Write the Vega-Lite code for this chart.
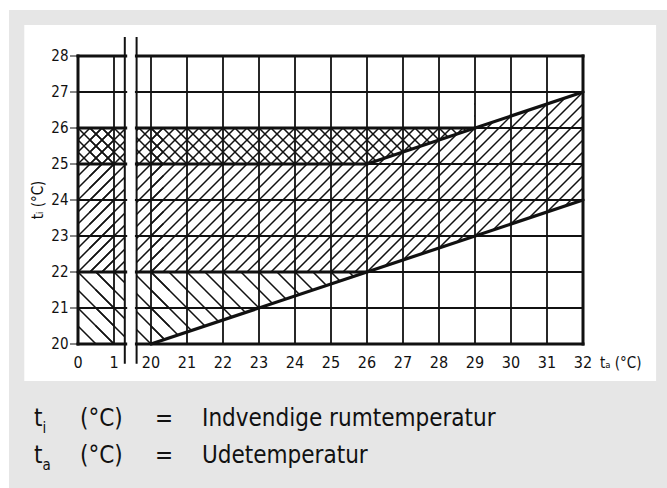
{
"$schema": "https://vega.github.io/schema/vega-lite/v6.json",
"width": 505,
"height": 288,
"autosize": "none",
"padding": {"left": 78, "top": 56, "right": 84, "bottom": 144},
"background": "white",
"config": {
  "font": "DejaVu Sans Condensed, DejaVu Sans, sans-serif",
  "view": {"stroke": null}
},
"datasets": {
  "b18": [
    {"x":0.5,"y":20.5},{"x":1,"y":20.5},{"x":20,"y":20.5},{"x":20.5,"y":20.5},{"x":21.5,"y":20.5},{"x":22.5,"y":20.5},{"x":23.5,"y":20.5},{"x":24.5,"y":20.5},{"x":25.5,"y":20.5},
    {"x":0.5,"y":21.5},{"x":1,"y":21.5},{"x":20,"y":21.5},{"x":20.5,"y":21.5},{"x":21.5,"y":21.5},{"x":22.5,"y":21.5},{"x":23.5,"y":21.5},{"x":24.5,"y":21.5},{"x":25.5,"y":21.5}
  ],
  "b12": [
    {"x":0.5,"y":25.5},{"x":0.8333,"y":25.5},{"x":19.8333,"y":25.5},{"x":20.5,"y":25.5},{"x":21.5,"y":25.5},{"x":22.5,"y":25.5},{"x":23.5,"y":25.5},{"x":24.5,"y":25.5},{"x":25.5,"y":25.5},{"x":26.5,"y":25.5},{"x":27.5,"y":25.5},{"x":28.5,"y":25.5}
  ],
  "f12": [
    {"x":0.5,"y":22.5},{"x":0.8333,"y":22.5},{"x":19.8333,"y":22.5},{"x":20.5,"y":22.5},{"x":21.5,"y":22.5},{"x":22.5,"y":22.5},{"x":23.5,"y":22.5},{"x":24.5,"y":22.5},{"x":25.5,"y":22.5},{"x":26.5,"y":22.5},{"x":27.5,"y":22.5},{"x":28.5,"y":22.5},{"x":29.5,"y":22.5},{"x":30.5,"y":22.5},{"x":31.5,"y":22.5},
    {"x":0.5,"y":23.5},{"x":0.8333,"y":23.5},{"x":19.8333,"y":23.5},{"x":20.5,"y":23.5},{"x":21.5,"y":23.5},{"x":22.5,"y":23.5},{"x":23.5,"y":23.5},{"x":24.5,"y":23.5},{"x":25.5,"y":23.5},{"x":26.5,"y":23.5},{"x":27.5,"y":23.5},{"x":28.5,"y":23.5},{"x":29.5,"y":23.5},{"x":30.5,"y":23.5},{"x":31.5,"y":23.5},
    {"x":0.5,"y":24.5},{"x":0.8333,"y":24.5},{"x":19.8333,"y":24.5},{"x":20.5,"y":24.5},{"x":21.5,"y":24.5},{"x":22.5,"y":24.5},{"x":23.5,"y":24.5},{"x":24.5,"y":24.5},{"x":25.5,"y":24.5},{"x":26.5,"y":24.5},{"x":27.5,"y":24.5},{"x":28.5,"y":24.5},{"x":29.5,"y":24.5},{"x":30.5,"y":24.5},{"x":31.5,"y":24.5},
    {"x":0.5,"y":25.5},{"x":0.8333,"y":25.5},{"x":19.8333,"y":25.5},{"x":20.5,"y":25.5},{"x":21.5,"y":25.5},{"x":22.5,"y":25.5},{"x":23.5,"y":25.5},{"x":24.5,"y":25.5},{"x":25.5,"y":25.5},{"x":26.5,"y":25.5},{"x":27.5,"y":25.5},{"x":28.5,"y":25.5},{"x":29.5,"y":25.5},{"x":30.5,"y":25.5},{"x":31.5,"y":25.5},
    {"x":29.5,"y":26.5},{"x":30.5,"y":26.5},{"x":31.5,"y":26.5}
  ],
  "maskA": [
    {"g":"M1","x":20,"y":20,"y2":20},{"g":"M1","x":26,"y":22,"y2":20},{"g":"M1","x":32,"y":22,"y2":20},
    {"g":"M2","x":26,"y":25,"y2":25},{"g":"M2","x":29,"y":26,"y2":25}
  ],
  "maskB": [
    {"g":"M3","x":26,"y":22,"y2":22},{"g":"M3","x":32,"y":24,"y2":22},
    {"g":"M4","x":29,"y":27,"y2":26},{"g":"M4","x":32,"y":27,"y2":27}
  ],
  "gx": [{"x":1},{"x":20},{"x":21},{"x":22},{"x":23},{"x":24},{"x":25},{"x":26},{"x":27},{"x":28},{"x":29},{"x":30},{"x":31}],
  "gy": [{"y":21},{"y":22},{"y":23},{"y":24},{"y":25},{"y":26},{"y":27}],
  "bx": [{"x":0},{"x":32}],
  "by": [{"y":20},{"y":28}],
  "xt": [{"x":0},{"x":1},{"x":20},{"x":21},{"x":22},{"x":23},{"x":24},{"x":25},{"x":26},{"x":27},{"x":28},{"x":29},{"x":30},{"x":31},{"x":32}],
  "yt": [{"y":20},{"y":21},{"y":22},{"y":23},{"y":24},{"y":25},{"y":26},{"y":27},{"y":28}],
  "lines": [
    {"seg":"a","x":0,"y":22},{"seg":"a","x":26,"y":22},
    {"seg":"b","x":0,"y":25},{"seg":"b","x":26,"y":25},
    {"seg":"c","x":0,"y":26},{"seg":"c","x":29,"y":26},
    {"seg":"d","x":20,"y":20},{"seg":"d","x":32,"y":24},
    {"seg":"e","x":26,"y":25},{"seg":"e","x":32,"y":27}
  ],
  "brk": [{"x":1.3},{"x":19.6}]
},
"layer": [
  {
    "data": {"values": [{}]},
    "mark": {"type": "rect", "fill": "#e6e6e6"},
    "encoding": {
      "x": {"datum": -1.9167, "type": "quantitative",
            "scale": {"domain": [0, 1.3, 19.6, 32], "range": [0, 46.8, 58.6, 505], "nice": false, "zero": false},
            "axis": null},
      "x2": {"datum": 34.34},
      "y": {"datum": 29.28, "type": "quantitative",
            "scale": {"domain": [20, 28], "nice": false, "zero": false},
            "axis": null},
      "y2": {"datum": 16}
    }
  },
  {
    "data": {"values": [{}]},
    "mark": {"type": "rect", "fill": "white"},
    "encoding": {
      "x": {"datum": -1.4917, "type": "quantitative"},
      "x2": {"datum": 34.03},
      "y": {"datum": 28.861, "type": "quantitative"},
      "y2": {"datum": 18.972}
    }
  },
  {
    "data": {"name": "b18"},
    "mark": {"type": "point", "shape": "M-1,-1L1,1M-1,0L0,1M0,-1L1,0", "size": 1296, "filled": false, "stroke": "#111", "strokeWidth": 1.5, "strokeCap": "square", "opacity": 1},
    "encoding": {
      "x": {"field": "x", "type": "quantitative"},
      "y": {"field": "y", "type": "quantitative"}
    }
  },
  {
    "data": {"name": "b12"},
    "mark": {"type": "point", "shape": "M-1,-1L1,1M-1,-0.3333L0.3333,1M-1,0.3333L-0.3333,1M-0.3333,-1L1,0.3333M0.3333,-1L1,-0.3333", "size": 1296, "filled": false, "stroke": "#111", "strokeWidth": 1.5, "strokeCap": "square", "opacity": 1},
    "encoding": {
      "x": {"field": "x", "type": "quantitative"},
      "y": {"field": "y", "type": "quantitative"}
    }
  },
  {
    "data": {"name": "maskA"},
    "mark": {"type": "area", "fill": "white", "opacity": 1},
    "encoding": {
      "x": {"field": "x", "type": "quantitative"},
      "y": {"field": "y", "type": "quantitative"},
      "y2": {"field": "y2"},
      "detail": {"field": "g"}
    }
  },
  {
    "data": {"name": "f12"},
    "mark": {"type": "point", "shape": "M-1,1L1,-1M-0.3333,1L1,-0.3333M0.3333,1L1,0.3333M-1,0.3333L0.3333,-1M-1,-0.3333L-0.3333,-1", "size": 1296, "filled": false, "stroke": "#111", "strokeWidth": 1.5, "strokeCap": "square", "opacity": 1},
    "encoding": {
      "x": {"field": "x", "type": "quantitative"},
      "y": {"field": "y", "type": "quantitative"}
    }
  },
  {
    "data": {"name": "maskB"},
    "mark": {"type": "area", "fill": "white", "opacity": 1},
    "encoding": {
      "x": {"field": "x", "type": "quantitative"},
      "y": {"field": "y", "type": "quantitative"},
      "y2": {"field": "y2"},
      "detail": {"field": "g"}
    }
  },
  {
    "data": {"values": [{}]},
    "mark": {"type": "rect", "fill": "white"},
    "encoding": {
      "x": {"datum": 1.3, "type": "quantitative"},
      "x2": {"datum": 19.6},
      "y": {"datum": 28, "type": "quantitative"},
      "y2": {"datum": 20}
    }
  },
  {
    "data": {"name": "gx"},
    "mark": {"type": "rule", "color": "#111", "strokeWidth": 1.8},
    "encoding": {"x": {"field": "x", "type": "quantitative"}}
  },
  {
    "data": {"name": "gy"},
    "mark": {"type": "rule", "color": "#111", "strokeWidth": 1.8},
    "encoding": {"y": {"field": "y", "type": "quantitative"}}
  },
  {
    "data": {"name": "bx"},
    "mark": {"type": "rule", "color": "#111", "strokeWidth": 3, "strokeCap": "square"},
    "encoding": {"x": {"field": "x", "type": "quantitative"}}
  },
  {
    "data": {"name": "by"},
    "mark": {"type": "rule", "color": "#111", "strokeWidth": 3, "strokeCap": "square"},
    "encoding": {"y": {"field": "y", "type": "quantitative"}}
  },
  {
    "data": {"name": "lines"},
    "mark": {"type": "line", "color": "#111", "strokeWidth": 3.2, "strokeCap": "round"},
    "encoding": {
      "x": {"field": "x", "type": "quantitative"},
      "y": {"field": "y", "type": "quantitative"},
      "detail": {"field": "seg"}
    }
  },
  {
    "data": {"values": [{}]},
    "mark": {"type": "rect", "fill": "white"},
    "encoding": {
      "x": {"datum": 5, "type": "quantitative"},
      "x2": {"datum": 17},
      "y": {"datum": 28.1, "type": "quantitative"},
      "y2": {"datum": 19.9}
    }
  },
  {
    "data": {"name": "brk"},
    "mark": {"type": "rule", "color": "#111", "strokeWidth": 2},
    "encoding": {
      "x": {"field": "x", "type": "quantitative"},
      "y": {"datum": 28.53, "type": "quantitative"},
      "y2": {"datum": 19.45}
    }
  },
  {
    "data": {"name": "yt"},
    "mark": {"type": "rule", "color": "#111", "strokeWidth": 1},
    "encoding": {
      "x": {"datum": -0.2222, "type": "quantitative"},
      "x2": {"datum": 0},
      "y": {"field": "y", "type": "quantitative"}
    }
  },
  {
    "data": {"name": "yt"},
    "mark": {"type": "text", "align": "right", "baseline": "middle", "fontSize": 15, "color": "#111"},
    "encoding": {
      "x": {"datum": -0.2639, "type": "quantitative"},
      "y": {"field": "y", "type": "quantitative"},
      "text": {"field": "y", "type": "quantitative"}
    }
  },
  {
    "data": {"name": "xt"},
    "mark": {"type": "text", "align": "center", "baseline": "alphabetic", "fontSize": 16, "color": "#111"},
    "encoding": {
      "x": {"field": "x", "type": "quantitative"},
      "y": {"datum": 19.33, "type": "quantitative"},
      "text": {"field": "x", "type": "quantitative"}
    }
  },
  {
    "data": {"values": [{"t": "tᵢ (°C)"}]},
    "mark": {"type": "text", "align": "center", "baseline": "middle", "fontSize": 15, "angle": 270, "color": "#111"},
    "encoding": {
      "x": {"datum": -1.111, "type": "quantitative"},
      "y": {"datum": 24, "type": "quantitative"},
      "text": {"field": "t"}
    }
  },
  {
    "data": {"values": [{"t": "tₐ (°C)"}]},
    "mark": {"type": "text", "align": "left", "baseline": "alphabetic", "fontSize": 15, "color": "#111"},
    "encoding": {
      "x": {"datum": 32.47, "type": "quantitative"},
      "y": {"datum": 19.33, "type": "quantitative"},
      "text": {"field": "t"}
    }
  },
  {
    "data": {"values": [
      {"t":"t","x":-1.2222,"y":17.722},{"t":"(°C)","x":0.0556,"y":17.722},{"t":"=","x":20.111,"y":17.722},{"t":"Indvendige rumtemperatur","x":21.417,"y":17.722},
      {"t":"t","x":-1.2222,"y":16.694},{"t":"(°C)","x":0.0556,"y":16.694},{"t":"=","x":20.111,"y":16.694},{"t":"Udetemperatur","x":21.417,"y":16.694}
    ]},
    "mark": {"type": "text", "align": "left", "baseline": "alphabetic", "fontSize": 24, "color": "#111"},
    "encoding": {
      "x": {"field": "x", "type": "quantitative"},
      "y": {"field": "y", "type": "quantitative"},
      "text": {"field": "t"}
    }
  },
  {
    "data": {"values": [
      {"t":"i","x":-1.2222,"y":17.722},{"t":"a","x":-1.2222,"y":16.694}
    ]},
    "mark": {"type": "text", "align": "left", "baseline": "alphabetic", "fontSize": 15, "dx": 8.5, "dy": 7, "color": "#111"},
    "encoding": {
      "x": {"field": "x", "type": "quantitative"},
      "y": {"field": "y", "type": "quantitative"},
      "text": {"field": "t"}
    }
  }
]
}
